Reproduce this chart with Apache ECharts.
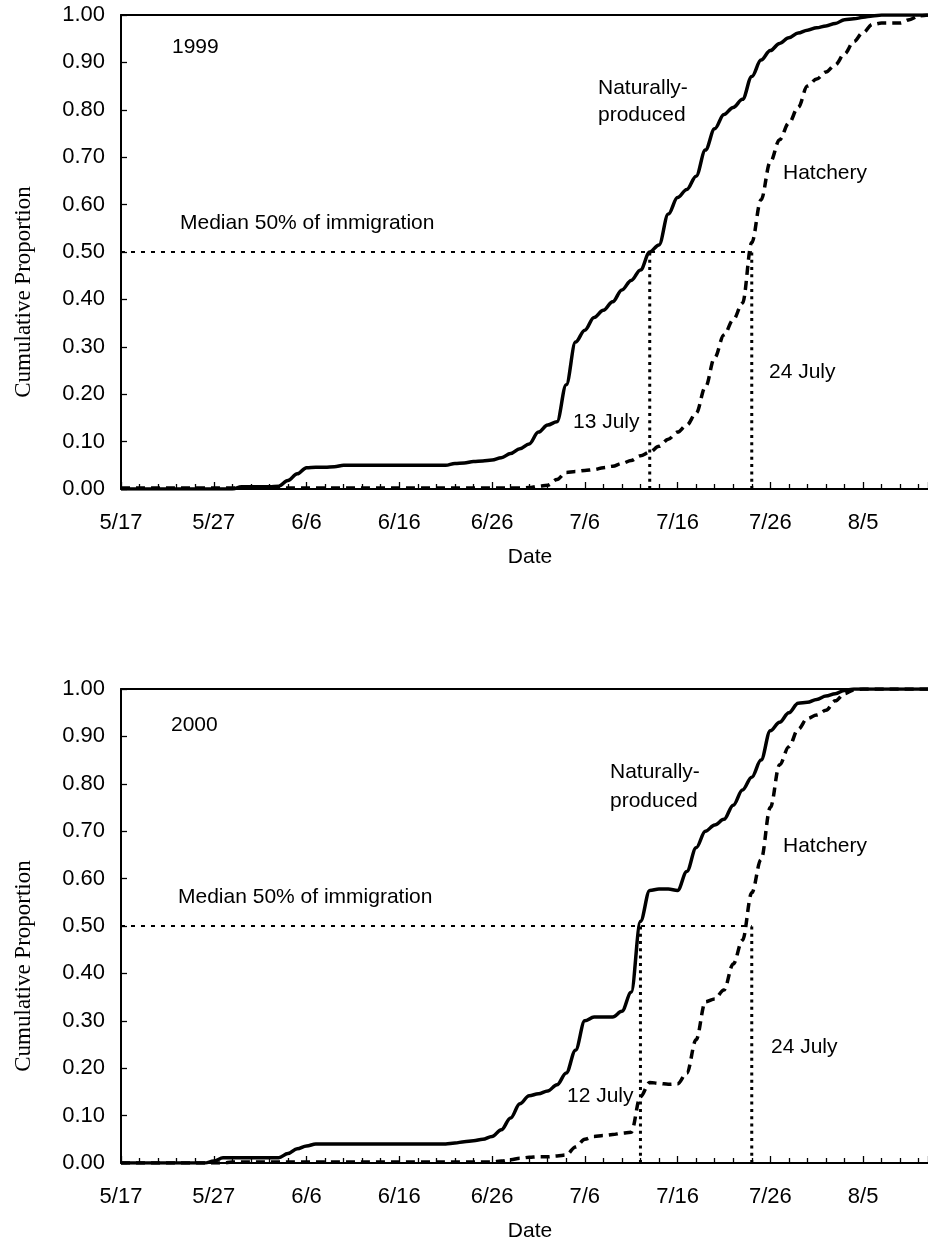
<!DOCTYPE html>
<html>
<head>
<meta charset="utf-8">
<script src="https://cdn.jsdelivr.net/npm/echarts@6/dist/echarts.min.js"></script>
<style>
html,body{margin:0;padding:0;background:#fff;}
#chart{width:928px;height:1243px;}
</style>
</head>
<body>
<div id="chart"></div>
<script>
// x = days since 5/17 (day 0 = 5/17)
const tickLabels = ['5/17','5/27','6/6','6/16','6/26','7/6','7/16','7/26','8/5'];
const yTickLabels = ['0.00','0.10','0.20','0.30','0.40','0.50','0.60','0.70','0.80','0.90','1.00'];

const natural1999 = [0,0,0,0,0,0,0,0,0,0,0,0,0,
  0.005,0.005,0.005,0.005,
  0.006,0.018,0.032,0.045,0.046,0.046,0.047,
  0.05,0.05,0.05,0.05,0.05,0.05,0.05,0.05,0.05,0.05,0.05,0.05,
  0.054,0.055,0.058,0.059,0.061,0.066,0.075,0.085,0.095,0.12,
  0.135,0.142,0.22,0.31,0.335,0.362,0.377,0.395,0.42,0.44,
  0.462,0.50,0.515,0.58,0.615,0.632,0.66,0.715,0.76,0.79,
  0.805,0.822,0.87,0.905,0.925,0.94,0.952,0.962,0.968,0.973,
  0.977,0.982,0.99,0.992,0.995,0.998,
  1,1,1,1,1,1];
const hatchery1999 = [0.002,0.002,0.002,0.002,0.002,0.002,0.002,0.002,0.002,0.002,
  0.002,0.002,0.002,0.002,0.002,0.002,0.002,0.002,0.002,0.002,
  0.002,0.002,0.002,0.002,0.002,0.002,0.002,0.002,0.002,0.002,
  0.002,0.002,0.002,0.002,0.002,0.002,0.002,0.002,0.002,0.002,
  0.002,0.002,0.002,0.002,
  0.003,0.006,0.008,0.02,0.035,0.037,0.039,0.041,0.045,0.048,
  0.054,0.06,0.07,0.078,0.09,0.105,0.12,0.135,0.16,0.215,
  0.277,0.325,0.357,0.392,0.52,0.61,0.69,0.737,0.772,0.805,
  0.85,0.865,0.88,0.895,0.918,0.944,0.963,0.98,0.983,0.983,
  0.983,0.99,0.998,1.0];
const natural2000 = [0,0,0,0,0,0,0,0,0,0,
  0.004,0.011,0.011,0.011,0.011,0.011,0.011,0.011,
  0.02,0.03,0.036,0.04,
  0.04,0.04,0.04,0.04,0.04,0.04,0.04,0.04,0.04,0.04,0.04,0.04,0.04,0.04,
  0.042,0.045,0.047,0.05,0.056,0.07,0.095,0.125,0.142,0.146,
  0.152,0.165,0.19,0.238,0.30,0.308,0.308,0.308,0.32,0.36,
  0.51,0.575,0.578,0.578,0.575,0.615,0.665,0.70,0.713,0.725,
  0.755,0.787,0.814,0.85,0.912,0.93,0.95,0.97,0.972,0.978,
  0.985,0.99,0.997,
  1,1,1,1,1,1,1,1,1];
const hatchery2000 = [0,0,0,0,0,0,0,0,0,0,0,0,
  0.002,0.002,0.002,0.002,0.002,0.002,0.002,0.002,0.002,0.002,
  0.002,0.002,0.002,0.002,0.002,0.002,0.002,0.002,0.002,0.002,
  0.002,0.002,0.002,0.002,0.002,0.002,0.002,0.002,0.002,
  0.004,0.007,0.01,0.012,0.013,0.013,0.015,0.017,0.034,0.05,
  0.056,0.058,0.06,0.063,0.065,0.14,0.17,0.168,0.166,0.167,
  0.19,0.26,0.34,0.346,0.365,0.42,0.47,0.57,0.64,0.75,
  0.84,0.878,0.915,0.938,0.945,0.955,0.975,0.99,0.998,
  1,1,1,1,1,1,1,1];

const medianValue = 0.5;
const median1999 = { natural: 57, hatchery: 68 };  // 13 July, 24 July
const median2000 = { natural: 56, hatchery: 68 };  // 12 July, 24 July

const FONT = '"Liberation Sans", Arial, sans-serif';
const SERIF = '"Liberation Serif", "Times New Roman", serif';

const chart = echarts.init(document.getElementById('chart'), null, {renderer: 'canvas'});

const grids = [
  {left: 121, top: 15, width: 807, height: 474},
  {left: 121, top: 689, width: 807, height: 474}
];

function xAxisFor(gi) {
  return {
    type: 'value', gridIndex: gi, min: 0, max: 87, interval: 10,
    axisLine: {show: true, onZero: false, lineStyle: {color: '#000', width: 2}},
    axisTick: {show: true, inside: true, length: 7, lineStyle: {color: '#000', width: 1.3}},
    minorTick: {show: true, splitNumber: 5, length: 5, lineStyle: {color: '#000', width: 1.3}},
    splitLine: {show: false}, minorSplitLine: {show: false},
    axisLabel: {
      margin: 23, color: '#000', fontFamily: FONT, fontSize: 22,
      formatter: v => tickLabels[Math.round(v / 10)] || '',
      showMaxLabel: false
    }
  };
}
function topAxisFor(gi) {
  return {
    type: 'value', gridIndex: gi, position: 'top', min: 0, max: 87,
    axisLine: {show: true, onZero: false, lineStyle: {color: '#000', width: 2}},
    axisTick: {show: false}, axisLabel: {show: false}, splitLine: {show: false}
  };
}
function yAxisFor(gi) {
  return {
    type: 'value', gridIndex: gi, min: 0, max: 1, interval: 0.1,
    axisLine: {show: true, onZero: false, lineStyle: {color: '#000', width: 2}},
    axisTick: {show: true, inside: true, length: 6, lineStyle: {color: '#000', width: 1.3}},
    splitLine: {show: false},
    axisLabel: {
      margin: 16, color: '#000', fontFamily: FONT, fontSize: 22,
      formatter: v => yTickLabels[Math.round(v * 10)]
    }
  };
}

function curveSeries(values, xi, yi, dashed) {
  return {
    type: 'line', xAxisIndex: xi, yAxisIndex: yi,
    data: values.map((v, i) => [i, v]),
    showSymbol: false, smooth: 0.35, smoothMonotone: 'x', silent: true,
    lineStyle: {color: '#000', width: 3.5, type: dashed ? [9, 6] : 'solid', cap: 'butt'},
    z: 5
  };
}
function medianSeries(med, xi, yi) {
  return [
    {
      type: 'line', xAxisIndex: xi, yAxisIndex: yi, silent: true, showSymbol: false,
      data: [[0, medianValue], [med.hatchery, medianValue]],
      lineStyle: {color: '#000', width: 2, type: [4, 6]}, z: 3
    },
    {
      type: 'line', xAxisIndex: xi, yAxisIndex: yi, silent: true, showSymbol: false,
      data: [[med.natural, 0], [med.natural, medianValue]],
      lineStyle: {color: '#000', width: 3, type: [3, 4.3]}, z: 3
    },
    {
      type: 'line', xAxisIndex: xi, yAxisIndex: yi, silent: true, showSymbol: false,
      data: [[med.hatchery, 0], [med.hatchery, medianValue]],
      lineStyle: {color: '#000', width: 3, type: [3, 4.3]}, z: 3
    }
  ];
}

function txt(text, x, y, opts) {
  opts = opts || {};
  return {
    type: 'text', x: x, y: y, rotation: opts.rotation || 0, silent: true,
    style: {
      text: text, fill: '#000',
      font: (opts.size || 21) + 'px ' + (opts.family || FONT),
      textAlign: opts.align || 'left', textVerticalAlign: 'middle'
    }
  };
}

const graphics = [
  // panel 1999
  txt('1999', 172, 47),
  txt('Naturally-', 598, 88),
  txt('produced', 598, 115),
  txt('Hatchery', 783, 173),
  txt('Median 50% of immigration', 180, 223),
  txt('13 July', 573, 422),
  txt('24 July', 769, 372),
  txt('Date', 530, 557, {align: 'center'}),
  txt('Cumulative Proportion', 24, 292, {align: 'center', rotation: Math.PI / 2, family: SERIF, size: 23}),
  // panel 2000
  txt('2000', 171, 725),
  txt('Naturally-', 610, 772),
  txt('produced', 610, 801),
  txt('Hatchery', 783, 846),
  txt('Median 50% of immigration', 178, 897),
  txt('12 July', 567, 1096),
  txt('24 July', 771, 1047),
  txt('Date', 530, 1231, {align: 'center'}),
  txt('Cumulative Proportion', 24, 966, {align: 'center', rotation: Math.PI / 2, family: SERIF, size: 23})
];

chart.setOption({
  animation: false,
  backgroundColor: '#fff',
  grid: grids,
  xAxis: [xAxisFor(0), xAxisFor(1), topAxisFor(0), topAxisFor(1)],
  yAxis: [yAxisFor(0), yAxisFor(1)],
  series: [
    ...medianSeries(median1999, 0, 0),
    curveSeries(natural1999, 0, 0, false),
    curveSeries(hatchery1999, 0, 0, true),
    ...medianSeries(median2000, 1, 1),
    curveSeries(natural2000, 1, 1, false),
    curveSeries(hatchery2000, 1, 1, true)
  ],
  graphic: graphics
});
</script>
</body>
</html>
